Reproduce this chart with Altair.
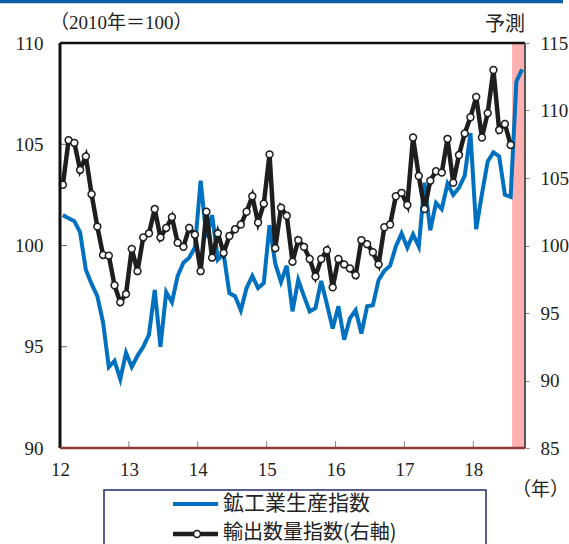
import altair as alt
import pandas as pd

# Monthly indices, Jan 2012 onward (2010 = 100)
# Mining & manufacturing production: Jan 2012 - Sep 2018 (Aug/Sep 2018 = forecast)
prod_index = [
    101.5, 101.35, 101.2, 100.65, 98.8, 98.1, 97.5, 96.2, 94.0, 94.3, 93.4, 94.7,
    94.0, 94.55, 95.0, 95.6, 97.8, 95.0, 97.7, 97.2, 98.5, 99.15, 99.4, 99.9,
    103.2, 100.4, 101.5, 99.3, 99.6, 97.65, 97.5, 96.8, 97.9, 98.5, 97.9, 98.15,
    101.0, 99.1, 98.2, 99.0, 96.75, 98.3, 97.5, 96.75, 96.9, 98.25, 97.1, 95.9,
    97.0, 95.35, 96.4, 96.8, 95.65, 97.0, 97.05, 98.3, 98.75, 99.0, 99.95, 100.6,
    99.9, 100.55, 99.95, 103.1, 100.75, 102.1, 101.8, 103.05, 102.5, 102.85, 103.45, 105.55,
    100.8, 102.55, 104.15, 104.6, 104.4, 102.5, 102.4, 108.1, 108.7,
]
# Export volume index (right axis): Jan 2012 - Jul 2018
export_index = [
    104.5, 107.8, 107.6, 105.6, 106.6, 103.8, 101.4, 99.3, 99.25, 97.05, 95.8, 96.4,
    99.75, 98.1, 100.6, 100.9, 102.7, 100.6, 101.3, 102.1, 100.2, 99.9, 101.3, 100.8,
    98.1, 102.5, 99.1, 100.9, 99.45, 100.7, 101.2, 101.55, 102.5, 103.65, 101.7, 103.1,
    106.75, 99.8, 102.8, 102.2, 98.8, 100.4, 99.9, 99.0, 97.7, 99.0, 99.65, 96.9,
    99.0, 98.6, 98.3, 97.8, 100.4, 100.1, 99.5, 98.6, 101.35, 101.55, 103.65, 103.9,
    103.0, 108.0, 105.15, 102.7, 104.8, 105.5, 105.4, 107.9, 104.65, 106.7, 108.3, 109.5,
    111.0, 108.0, 109.8, 113.0, 108.55, 109.0, 107.45,
]
start_year = 2012
year_ticks = [2012, 2013, 2014, 2015, 2016, 2017, 2018]
left_ticks = [90, 95, 100, 105, 110]
right_ticks = [85, 90, 95, 100, 105, 110, 115]
forecast_span = [2018 + 6.75 / 12, 2018.75]

W, H = 465, 405
NUM_FONT = "'Liberation Serif', 'DejaVu Serif', serif"
JP_FONT = "'Noto Sans CJK JP', sans-serif"
MIX_FONT = "'Liberation Serif', 'Noto Sans CJK JP', serif"
TXT = "#222222"


def month_positions(values):
    return [start_year + (i + 0.5) / 12 for i in range(len(values))]


prod_df = pd.DataFrame({"year": month_positions(prod_index), "value": prod_index})
exp_df = pd.DataFrame({"year": month_positions(export_index), "value": export_index})
one = pd.DataFrame({"k": [0]})

x_scale = alt.Scale(domain=[start_year, forecast_span[1]], nice=False, zero=False)
yl_scale = alt.Scale(domain=[90, 110], nice=False, zero=False)
yr_scale = alt.Scale(domain=[85, 115], nice=False, zero=False)

x_axis = alt.Axis(values=year_ticks, labelExpr="'' + (datum.value - 2000)",
                  ticks=False, domain=False, grid=False, labelPadding=12,
                  labelFlush=False, labelFont=NUM_FONT, labelFontSize=19,
                  labelColor=TXT, title=None)
left_axis = alt.Axis(orient="left", values=left_ticks, ticks=False, domain=False,
                     grid=False, labelPadding=17, labelFont=NUM_FONT,
                     labelFontSize=19, labelColor=TXT, title=None)
right_axis = alt.Axis(orient="right", values=right_ticks, tickSize=4,
                      tickColor="#888888", tickWidth=1, domain=False, grid=False,
                      labelPadding=11, labelFont=NUM_FONT, labelFontSize=19,
                      labelColor=TXT, title=None)

X = lambda f: alt.X(f, scale=x_scale, axis=x_axis)

# forecast band
band = alt.Chart(pd.DataFrame({"s": [forecast_span[0]], "e": [forecast_span[1]]})).mark_rect(
    color="#ffb0b0").encode(x=X("s:Q"), x2="e:Q", y=alt.value(0), y2=alt.value(H))

prod_line = alt.Chart(prod_df).mark_line(color="#0070c0", strokeWidth=4).encode(
    x=X("year:Q"), y=alt.Y("value:Q", scale=yl_scale, axis=left_axis))

# inward tick marks on the left and bottom axes
left_tick_marks = alt.Chart(pd.DataFrame({"value": left_ticks[:-1]})).mark_rule(
    color="#666666", strokeWidth=1).encode(
    y=alt.Y("value:Q", scale=yl_scale, axis=left_axis), x=alt.value(0), x2=alt.value(7))
x_tick_marks = alt.Chart(pd.DataFrame({"year": year_ticks[1:]})).mark_rule(
    color="#888888", strokeWidth=1).encode(
    x=X("year:Q"), y=alt.value(H - 7), y2=alt.value(H))

left_layer = alt.layer(band, prod_line, left_tick_marks, x_tick_marks)

exp_line = alt.Chart(exp_df).mark_line(color="#1e1e1e", strokeWidth=4.5).encode(
    x=X("year:Q"), y=alt.Y("value:Q", scale=yr_scale, axis=right_axis))
exp_points = alt.Chart(exp_df).mark_point(
    shape="circle", filled=True, fill="white", stroke="#1e1e1e", strokeWidth=1.5,
    size=48, opacity=1).encode(
    x=X("year:Q"), y=alt.Y("value:Q", scale=yr_scale, axis=right_axis))

right_layer = alt.layer(exp_line, exp_points)

# plot frame
frame = [
    alt.Chart(one).mark_rule(color="#111111", strokeWidth=2.5).encode(
        x=alt.value(0), x2=alt.value(W), y=alt.value(0)),
    alt.Chart(one).mark_rule(color="#111111", strokeWidth=3).encode(
        x=alt.value(0), y=alt.value(0), y2=alt.value(H)),
    alt.Chart(one).mark_rule(color="#555555", strokeWidth=2).encode(
        x=alt.value(W), y=alt.value(0), y2=alt.value(H)),
    alt.Chart(one).mark_rule(color="#8b3a3a", strokeWidth=2.5).encode(
        x=alt.value(0), x2=alt.value(W), y=alt.value(H)),
    # header bar
    alt.Chart(one).mark_rule(color="#0b5fa5", strokeWidth=3.5).encode(
        x=alt.value(-60), x2=alt.value(503), y=alt.value(-41.5)),
]

texts = [
    alt.Chart(one).mark_text(text="（2010年＝100）", align="left", baseline="middle",
                             font=MIX_FONT, fontSize=19, color=TXT).encode(
        x=alt.value(-10), y=alt.value(-20)),
    alt.Chart(one).mark_text(text="予測", align="right", baseline="middle",
                             font=JP_FONT, fontSize=20, color=TXT).encode(
        x=alt.value(W), y=alt.value(-18)),
    alt.Chart(one).mark_text(text="（年）", align="right", baseline="middle",
                             font=JP_FONT, fontSize=19, color=TXT).encode(
        x=alt.value(W + 44), y=alt.value(447)),
]

# legend box
legend = [
    alt.Chart(one).mark_rect(fill="white", stroke="#1f2a6b", strokeWidth=1.5).encode(
        x=alt.value(44), x2=alt.value(426), y=alt.value(447), y2=alt.value(530)),
    alt.Chart(one).mark_rule(color="#0070c0", strokeWidth=4).encode(
        x=alt.value(113), x2=alt.value(158), y=alt.value(461)),
    alt.Chart(one).mark_rule(color="#1e1e1e", strokeWidth=4.5).encode(
        x=alt.value(113), x2=alt.value(158), y=alt.value(491)),
    alt.Chart(one).mark_point(shape="circle", filled=True, fill="white", stroke="#1e1e1e",
                              strokeWidth=1.5, size=48, opacity=1).encode(
        x=alt.value(137), y=alt.value(491)),
    alt.Chart(one).mark_text(text="鉱工業生産指数", align="left", baseline="middle",
                             font=JP_FONT, fontSize=21, color=TXT).encode(
        x=alt.value(163), y=alt.value(461)),
    alt.Chart(one).mark_text(text="輸出数量指数(右軸)", align="left", baseline="middle",
                             font=JP_FONT, fontSize=20, color=TXT).encode(
        x=alt.value(163), y=alt.value(490)),
]

chart = alt.layer(left_layer, right_layer, *frame, *texts, *legend).resolve_scale(
    y="independent"
).properties(
    width=W, height=H,
    padding={"left": 60, "top": 43, "right": 44, "bottom": 96},
    autosize=alt.AutoSizeParams(type="none"),
).configure_view(stroke=None)

chart.save("out.html", embed_options={"renderer": "svg", "actions": False})
